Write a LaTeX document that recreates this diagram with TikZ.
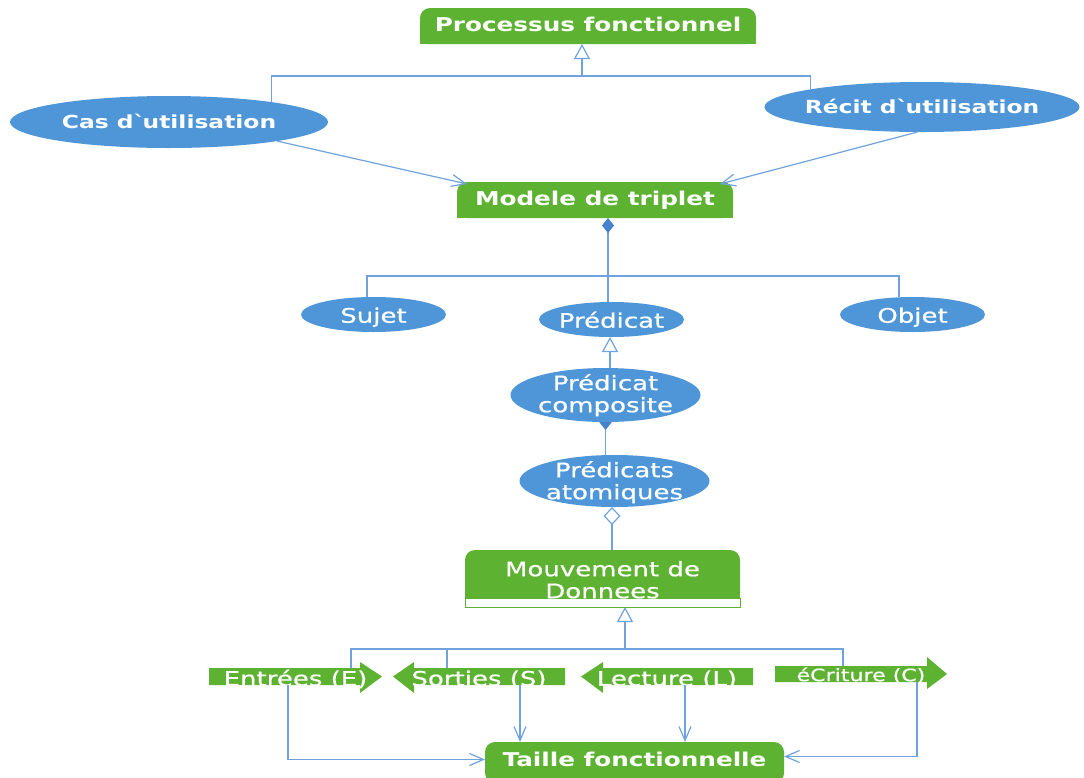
\documentclass[tikz,border=0pt]{standalone}
\usepackage{fontspec}
\newfontfamily\wf[FakeStretch=1.3]{DejaVu Sans}
\newfontfamily\wfm[FakeStretch=1.3,FakeBold=0.7]{DejaVu Sans}
\usetikzlibrary{arrows.meta,calc,backgrounds,shapes.geometric}
\definecolor{gr}{RGB}{94,178,50}
\definecolor{bl}{RGB}{78,150,216}
\definecolor{ln}{RGB}{112,163,222}
\definecolor{dk}{RGB}{70,130,205}
\newcommand\ctr[2][0pt]{\makebox[0pt]{\raisebox{\dimexpr#1-.36em\relax}[0pt][0pt]{#2}}}
\newcommand\ctrr[3][0pt]{\makebox[0pt]{\raisebox{\dimexpr#1+11pt-.36em\relax}[0pt][0pt]{#2}}\makebox[0pt]{\raisebox{\dimexpr#1-11pt-.36em\relax}[0pt][0pt]{#3}}}
\tikzset{
  ell/.style={ellipse, fill=bl, text=white, inner sep=0pt, outer sep=0pt},
  gbox/.style={rectangle, inner sep=0pt, outer sep=0pt, text=white},
  conn/.style={draw=ln, line width=1.2pt},
  tri/.style={conn, -{Triangle[open, fill=white, length=15pt, width=16pt]}},
  barb/.style={conn, -{Straight Barb[length=14pt, width=12pt]}},
  dia/.style={conn, {Diamond[length=15pt, width=12pt, fill=dk, color=dk]}-},
  odia/.style={conn, {Diamond[open, fill=white, length=18pt, width=17pt]}-},
  bfh/.style={font=\wf\bfseries\fontsize{19}{22}\selectfont},
  bfe/.style={font=\wf\bfseries\fontsize{18}{22}\selectfont},
  rg/.style={font=\wfm\fontsize{20}{22}\selectfont},
  rgs/.style={font=\wfm\fontsize{17}{22}\selectfont},
}
\newcommand\tabshape[1]{%
  \fill[gr, rounded corners=10pt] (#1.south west) rectangle (#1.north east);
  \fill[gr] (#1.south west) rectangle ($(#1.east)+(0,2)$);}
\newcommand\rarr[4]{% name, head length, head up, head down
  \fill[gr] (#1.north west) -- ($(#1.north east)+(-#2,0)$) -- ($(#1.north east)+(-#2,-#3)$) -- (#1.east)
   -- ($(#1.south east)+(-#2,#4)$) -- ($(#1.south east)+(-#2,0)$) -- (#1.south west) -- cycle;}
\newcommand\larr[4]{%
  \fill[gr] (#1.north east) -- ($(#1.north west)+(#2,0)$) -- ($(#1.north west)+(#2,-#3)$) -- (#1.west)
   -- ($(#1.south west)+(#2,#4)$) -- ($(#1.south west)+(#2,0)$) -- (#1.south east) -- cycle;}
\begin{document}
\begin{tikzpicture}[x=1pt,y=-1pt]
\useasboundingbox (0,0) rectangle (1084,777);
% green boxes (text nodes)
\node[gbox,bfh,minimum width=336pt,minimum height=36pt] (proc) at (588,26) {\ctr[1.5pt]{Processus fonctionnel}};
\node[gbox,bfh,minimum width=276pt,minimum height=36pt] (modele) at (595,200) {\ctr[1.5pt]{Modele de triplet}};
\node[gbox,rg,minimum width=275pt,minimum height=57pt] (mouv) at (602.5,578.5) {\ctrr[-1.5pt]{Mouvement de}{Donnees}};
\node[gbox,bfh,minimum width=299pt,minimum height=35pt] (taille) at (634.5,759.5) {\ctr[0pt]{Taille fonctionnelle}};
% arrow shaped nodes
\node[gbox,rg,minimum width=173pt,minimum height=17pt] (ent) at (295.5,676.5) {\ctr[-2pt]{Entrées (E)}};
\node[gbox,rg,minimum width=172pt,minimum height=17pt] (sor) at (479,676.5) {\ctr[-2pt]{Sorties (S)}};
\node[gbox,rg,minimum width=172pt,minimum height=17pt] (lec) at (667,676.5) {\ctr[-2pt]{Lecture (L)}};
\node[gbox,rgs,minimum width=172pt,minimum height=16pt] (ecr) at (861,674) {\ctr[-1pt]{éCriture (C)}};
% ellipses
\node[ell,bfe,minimum width=318pt,minimum height=52pt] (cas) at (169,122) {\ctr{Cas d\textasciigrave utilisation}};
\node[ell,bfe,minimum width=315pt,minimum height=50pt] (recit) at (922,107) {\ctr{Récit d\textasciigrave utilisation}};
\node[ell,rg,minimum width=145pt,minimum height=35pt] (sujet) at (373.5,314.5) {\ctr[-1pt]{Sujet}};
\node[ell,rg,minimum width=145pt,minimum height=35pt] (predicat) at (611.5,319.5) {\ctr[-1pt]{Prédicat}};
\node[ell,rg,minimum width=145pt,minimum height=35pt] (objet) at (912.5,314.5) {\ctr[-1pt]{Objet}};
\node[ell,rg,minimum width=190pt,minimum height=54pt] (pcomp) at (605.5,395) {\ctrr[1pt]{Prédicat}{composite}};
\node[ell,rg,minimum width=190pt,minimum height=52pt] (patom) at (614.5,481) {\ctrr[0pt]{Prédicats}{atomiques}};
% shapes behind
\begin{scope}[on background layer]
  \fill[white] (0,0) rectangle (1084,777);
  \tabshape{proc}
  \tabshape{modele}
  \fill[gr, rounded corners=10pt] (mouv.north west) rectangle ($(mouv.south east)+(0,-4)$);
  \fill[gr] ($(mouv.west)$) rectangle ($(mouv.south east)+(0,-9)$);
  \draw[gr, fill=white, line width=1pt] ($(mouv.south west)+(0,-9)$) rectangle (mouv.south east);
  \fill[gr, rounded corners=10pt] (taille.north west) rectangle ($(taille.south east)+(0,6)$);
  \rarr{ent}{22}{6}{8}
  \larr{sor}{21}{6}{8}
  \larr{lec}{22}{6}{8}
  \rarr{ecr}{20}{9}{7}
  % composite -> atomiques (filled diamond partly under the ellipse)
  \draw[dia, shorten <=-7pt] (pcomp.south) -- (pcomp.south |- patom.north);
\end{scope}
% connectors
\coordinate (bT) at (582,76);
\draw[conn] (cas.11) |- (bT) -| (recit.171);
\draw[tri] (bT) -- (bT |- proc.south);
\draw[barb] (cas.-10) -- ($(modele.north west)+(10,2)$);
\draw[barb] (recit.-100) -- ($(modele.north east)+(-13,2)$);
\coordinate (md) at ($(modele.south)+(13,0)$);
\draw[dia] (md) -- (md |- predicat.north);
\coordinate (mB) at (608,276);
\coordinate (sj) at ($(sujet.north)+(-6.5,0)$);
\coordinate (ob) at ($(objet.north)+(-13.5,0)$);
\draw[conn] (sj) -- (sj |- mB) -- (ob |- mB) -- (ob);
\coordinate (pc) at ($(pcomp.north)+(4.5,0)$);
\draw[tri] (pc) -- (pc |- predicat.south);
\coordinate (pa) at ($(patom.south)+(-2.5,0)$);
\draw[odia] (pa) -- (pa |- mouv.north);
\coordinate (bB) at (625,649);
\draw[tri] (bB) -- (bB |- mouv.south);
\coordinate (e1) at ($(ent.north)+(55.5,0)$);
\coordinate (s1) at ($(sor.north)+(-32,0)$);
\coordinate (c1) at ($(ecr.north)+(-18,0)$);
\draw[conn] (e1) -- (e1 |- bB) -- (c1 |- bB) -- (c1);
\draw[conn] (s1) -- (s1 |- bB);
\draw[barb] ($(ent.south)+(-7.5,0)$) |- (taille.west);
\coordinate (s2) at ($(sor.south)+(41,0)$);
\draw[barb] (s2) -- (s2 |- taille.north);
\coordinate (l2) at ($(lec.south)+(18,0)$);
\draw[barb] (l2) -- (l2 |- taille.north);
\draw[barb] ($(ecr.south)+(56,0)$) |- ($(taille.east)+(0,-3)$);
\end{tikzpicture}
\end{document}
